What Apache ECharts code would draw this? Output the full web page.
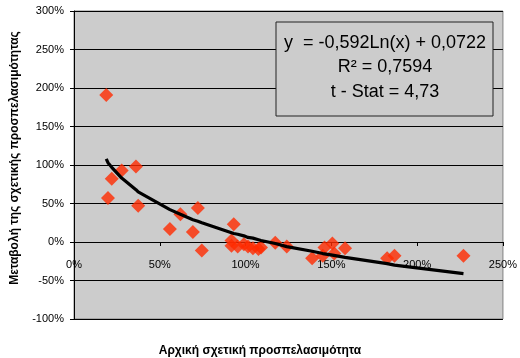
<!DOCTYPE html>
<html>
<head>
<meta charset="utf-8">
<script src="https://cdn.jsdelivr.net/npm/echarts@6/dist/echarts.min.js"></script>
<style>html,body{margin:0;padding:0;background:#fff;}#c{width:520px;height:358px;}</style>
</head>
<body>
<div id="c"></div>
<script>
// Scatter points: initial relative accessibility (%) vs change (%)
var pointX = [18.8, 19.8, 22, 27.8, 36.1, 37.4, 55.9, 62, 69.3, 72.2, 74.5, 93.1, 91.8, 91.8, 95.4, 99, 101.4, 104.3, 107.5, 109, 117.3, 124, 138.8, 145, 146, 150.6, 151.7, 158, 182.5, 186.8, 227];
var pointY = [191, 57, 82, 93, 98, 47, 17, 36, 13, 44, -11, 23, 2, -5, -6, -3, -6, -8, -9, -7, -1, -6, -21, -18, -7, -2, -15, -8, -21, -18, -18];
// Trend line (logarithmic fit)
var trendX = [18.8, 19.8, 22, 27.8, 36.1, 37.4, 55.9, 62, 69.3, 72.2, 74.5, 91.8, 93.1, 95.4, 99, 101.4, 104.3, 107.5, 109, 117.3, 124, 138.8, 145, 146, 150.6, 151.7, 158, 182.5, 186.8, 227];
var trendY = [108, 103, 97, 83, 68, 65, 42, 36, 29, 27, 25, 12, 11, 10, 8, 6, 5, 3, 2, -2, -6, -12, -15, -15, -17, -18, -20, -28, -30, -41];
var xTicks = {min: 0, max: 250, step: 50};
var yTicks = {min: -100, max: 300, step: 50};
var xName = 'Αρχική σχετική προσπελασιμότητα';
var yName = 'Μεταβολή της σχετικής προσπελασιμότητας';
var boxLines = ['y  = -0,592Ln(x) + 0,0722', 'R² = 0,7594', 't - Stat = 4,73'];

var font = '"Liberation Sans", Arial, sans-serif';
var scatterData = pointX.map(function (x, i) { return [x, pointY[i]]; });
var trendData = trendX.map(function (x, i) { return [x, trendY[i]]; });

var chart = echarts.init(document.getElementById('c'), null, {renderer: 'canvas'});
chart.setOption({
  animation: false,
  backgroundColor: '#ffffff',
  grid: {left: 74, right: 12, top: 11, bottom: 39, show: true, backgroundColor: '#cccccc', borderColor: '#808080', borderWidth: 1},
  xAxis: {
    type: 'value', min: xTicks.min, max: xTicks.max, interval: xTicks.step,
    offset: -77,
    axisLine: {show: true, onZero: false, lineStyle: {color: '#000', width: 1}},
    axisTick: {show: true, inside: false, length: 4, lineStyle: {color: '#000'}},
    axisLabel: {formatter: '{value}%', color: '#000', fontFamily: font, fontSize: 11, margin: 17, showMinLabel: true, showMaxLabel: true},
    splitLine: {show: false}
  },
  yAxis: {
    type: 'value', min: yTicks.min, max: yTicks.max, interval: yTicks.step,
    axisLine: {show: true, onZero: false, lineStyle: {color: '#000', width: 1}},
    axisTick: {show: true, inside: false, length: 4, lineStyle: {color: '#000'}},
    axisLabel: {formatter: '{value}%', color: '#000', fontFamily: font, fontSize: 11, margin: 10},
    splitLine: {show: true, lineStyle: {color: '#000', width: 1}}
  },
  series: [
    {type: 'scatter', data: scatterData, symbol: 'diamond', symbolSize: 14, itemStyle: {color: '#ff2a00'}, z: 2},
    {type: 'line', data: trendData, showSymbol: false, symbol: 'none', lineStyle: {color: '#000', width: 3.2}, z: 3}
  ],
  graphic: [
    {type: 'rect', shape: {x: 276, y: 22, width: 217, height: 94}, style: {fill: '#cccccc', stroke: '#222', lineWidth: 1}, z: 10},
    {type: 'text', x: 385, y: 43, style: {text: boxLines[0], font: '18px ' + font, fill: '#000', align: 'center', verticalAlign: 'middle'}, z: 11},
    {type: 'text', x: 385, y: 67, style: {text: boxLines[1], font: '18px ' + font, fill: '#000', align: 'center', verticalAlign: 'middle'}, z: 11},
    {type: 'text', x: 385, y: 92, style: {text: boxLines[2], font: '18px ' + font, fill: '#000', align: 'center', verticalAlign: 'middle'}, z: 11},
    {type: 'text', x: 260, y: 351, style: {text: xName, font: 'bold 12px ' + font, fill: '#000', align: 'center', verticalAlign: 'middle'}, z: 11},
    {type: 'text', x: 15, y: 158, rotation: Math.PI / 2, style: {text: yName, font: 'bold 12px ' + font, fill: '#000', align: 'center', verticalAlign: 'middle'}, z: 11}
  ]
});
</script>
</body>
</html>
